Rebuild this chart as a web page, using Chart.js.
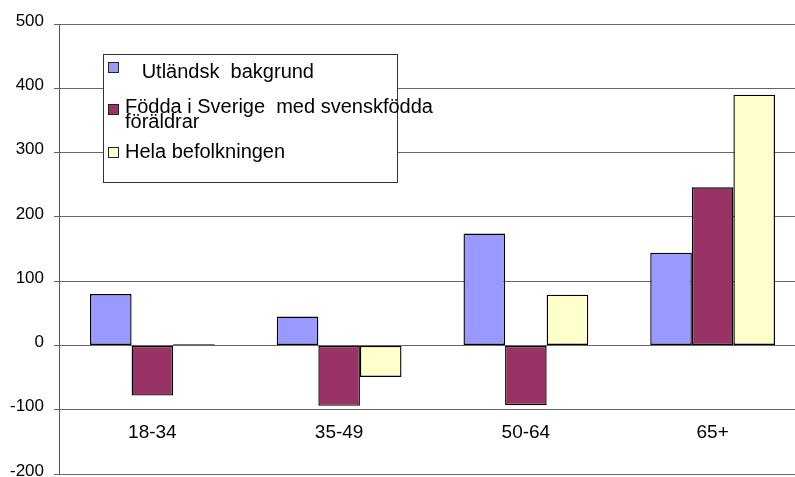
<!DOCTYPE html>
<html>
<head>
<meta charset="utf-8">
<script src="https://cdn.jsdelivr.net/npm/chart.js@4/dist/chart.umd.min.js"></script>
<style>
  html, body { margin: 0; padding: 0; background: #fff; overflow: hidden; }
  #wrap { position: relative; width: 795px; height: 477px; overflow: hidden; }
  #miGrafico { position: absolute; left: 0; top: 0; }
  #leyenda {
    position: absolute; left: 103px; top: 54px; width: 293px; height: 127px;
    border: 1px solid #333; background: #fff;
    font-family: 'Liberation Sans', Arial, sans-serif; font-size: 20px; color: #000;
  }
  #leyenda .item { position: relative; padding-left: 21px; line-height: 15px; white-space: pre; }
  #leyenda .caja { position: absolute; left: 4px; width: 9px; height: 9px; border: 1px solid #222; }
</style>
</head>
<body>
<div id="wrap">
  <canvas id="miGrafico" width="806" height="477"></canvas>
  <div id="leyenda"></div>
</div>
<script>
const categorias = ['18-34', '35-49', '50-64', '65+'];
const utlandsk = [80, 45, 174, 144];
const svenskfodda = [-78, -94, -93, 246];
const hela = [2, -49, 79, 390];
const nombres = ['   Utländsk  bakgrund', 'Födda i Sverige  med svenskfödda\nföräldrar', 'Hela befolkningen'];
const colores = ['#9999ff', '#993366', '#ffffcc'];

const fuente = "'Liberation Sans', Arial, sans-serif";

document.addEventListener('DOMContentLoaded', () => {
  const canvas = document.getElementById('miGrafico');
  new Chart(canvas.getContext('2d'), {
    type: 'bar',
    data: {
      labels: categorias,
      datasets: [
        { label: nombres[0], data: utlandsk, backgroundColor: colores[0] },
        { label: nombres[1], data: svenskfodda, backgroundColor: colores[1] },
        { label: nombres[2], data: hela, backgroundColor: colores[2] }
      ].map(d => Object.assign(d, { borderColor: '#000', borderWidth: 1.4, borderSkipped: false, inflateAmount: 0 }))
    },
    options: {
      responsive: false,
      animation: false,
      barPercentage: 1,
      categoryPercentage: 0.668,
      layout: { padding: { top: 24, bottom: 3, left: 0, right: 0 } },
      plugins: { legend: { display: false }, tooltip: { enabled: false } },
      scales: {
        x: {
          position: { y: -100 },
          grid: { display: false, drawTicks: false },
          border: { display: false },
          ticks: { color: '#000', padding: 12, font: { family: fuente, size: 19 } },
          afterFit(s) { s.paddingLeft = 0; s.paddingRight = 0; }
        },
        y: {
          min: -200,
          max: 500,
          ticks: { stepSize: 100, color: '#000', padding: 10, labelOffset: -3, font: { family: fuente, size: 17 } },
          grid: { color: '#666', lineWidth: 1, tickLength: 5 },
          border: { color: '#555', width: 1 },
          afterFit(s) { s.width = 59; s.paddingTop = 0; s.paddingBottom = 0; }
        }
      }
    }
  });

  // leyenda en html con recuadro
  const ley = document.getElementById('leyenda');
  const margenes = [9, 20, 15];
  const cajaTop = [-2, 5, 3];
  nombres.forEach((n, i) => {
    const item = document.createElement('div');
    item.className = 'item';
    item.style.marginTop = margenes[i] + 'px';
    const caja = document.createElement('span');
    caja.className = 'caja';
    caja.style.background = colores[i];
    caja.style.top = cajaTop[i] + 'px';
    item.appendChild(caja);
    item.appendChild(document.createTextNode(n));
    ley.appendChild(item);
  });
});
</script>
</body>
</html>
